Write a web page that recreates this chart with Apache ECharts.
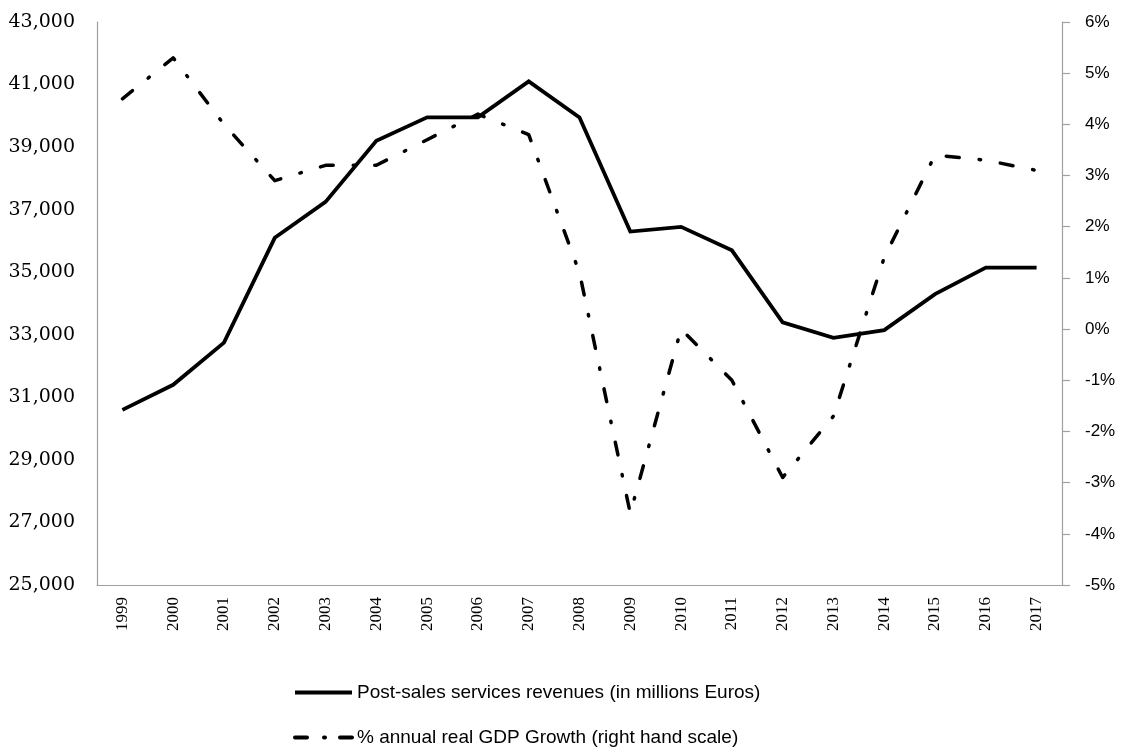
<!DOCTYPE html>
<html>
<head>
<meta charset="utf-8">
<script src="https://cdn.jsdelivr.net/npm/echarts@6/dist/echarts.min.js"></script>
<style>html,body{margin:0;padding:0;background:#fff}#c{width:1130px;height:747px}</style>
</head>
<body>
<div id="c"></div>
<script>
const years = ['1999','2000','2001','2002','2003','2004','2005','2006','2007','2008','2009','2010','2011','2012','2013','2014','2015','2016','2017'];
const revenues = [30600, 31400, 32750, 36100, 37250, 39200, 39950, 39950, 41100, 39950, 36300, 36450, 35700, 33400, 32900, 33150, 34300, 35150, 35150];
const gdpGrowth = [4.5, 5.3, 4.0, 2.9, 3.2, 3.2, 3.7, 4.2, 3.8, 1.1, -3.6, 0.0, -1.0, -2.9, -1.7, 1.4, 3.4, 3.3, 3.1];
const leftTicks = {min: 25000, max: 43000, step: 2000};
const rightTicks = {min: -5, max: 6, step: 1};
const seriesNames = ['Post-sales services revenues (in millions Euros)', '% annual real GDP Growth (right hand scale)'];

const axisGrey = '#a0a0a0';
const legendBase = {
  orient: 'vertical', left: 288,
  itemWidth: 57, itemHeight: 14, itemGap: 6,
  itemStyle: {opacity: 0},
  textStyle: {fontFamily: 'Liberation Sans', fontSize: 19, color: '#000'}
};
const chart = echarts.init(document.getElementById('c'), null, {renderer: 'canvas'});
chart.setOption({
  animation: false,
  backgroundColor: '#fff',
  grid: {left: 97, right: 68, top: 22, bottom: 162, containLabel: false},
  legend: [
    Object.assign({}, legendBase, {top: 678, data: [seriesNames[0]],
      lineStyle: {width: 4, color: '#000', type: 'solid'}}),
    Object.assign({}, legendBase, {top: 723, data: [seriesNames[1]],
      lineStyle: {width: 4, color: '#000', type: [12, 17, 1, 15], cap: 'round'}})
  ],
  xAxis: {
    type: 'category', data: years, boundaryGap: true,
    axisLine: {onZero: false, lineStyle: {color: axisGrey, width: 1.2}},
    axisTick: {show: false},
    axisLabel: {rotate: 90, margin: 12, fontFamily: 'Liberation Serif', fontSize: 17, color: '#000', interval: 0}
  },
  yAxis: [
    {
      type: 'value', min: leftTicks.min, max: leftTicks.max, interval: leftTicks.step,
      axisLine: {show: true, onZero: false, lineStyle: {color: axisGrey, width: 1.2}},
      axisTick: {show: false},
      splitLine: {show: false},
      axisLabel: {margin: 22, fontFamily: 'DejaVu Serif', fontSize: 19, color: '#000',
        formatter: v => v.toLocaleString('en-US')}
    },
    {
      type: 'value', position: 'right', min: rightTicks.min, max: rightTicks.max, interval: rightTicks.step,
      axisLine: {show: true, onZero: false, lineStyle: {color: axisGrey, width: 1.2}},
      axisTick: {show: true, length: 8, lineStyle: {color: axisGrey, width: 1.2}},
      splitLine: {show: false},
      axisLabel: {margin: 23, fontFamily: 'Liberation Sans', fontSize: 17, color: '#000',
        formatter: v => v + '%'}
    }
  ],
  series: [
    {
      name: seriesNames[0], type: 'line', yAxisIndex: 0, data: revenues,
      symbol: 'none', showSymbol: false,
      lineStyle: {color: '#000', width: 3.8, join: 'miter'},
      itemStyle: {color: '#000'}
    },
    {
      name: seriesNames[1], type: 'line', yAxisIndex: 1, data: gdpGrowth,
      symbol: 'none', showSymbol: false,
      lineStyle: {color: '#000', width: 3.5, type: [13, 20, 1.5, 20], cap: 'round', join: 'round'},
      itemStyle: {color: '#000'}
    }
  ]
});
</script>
</body>
</html>
